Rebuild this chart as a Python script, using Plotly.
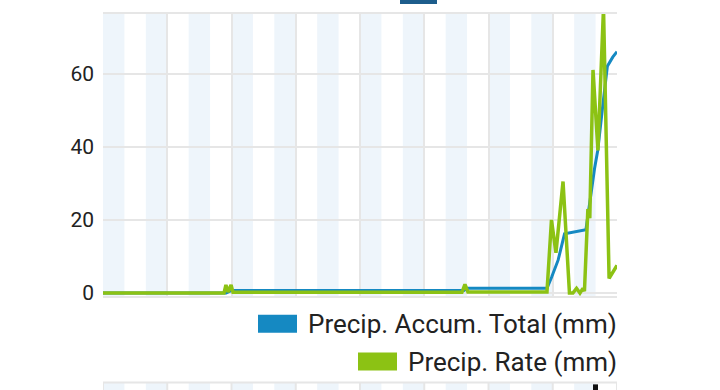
import plotly.graph_objects as go

# ---- data (x in time units 0..24, y in mm) ----
accum_name = "Precip. Accum. Total (mm)"
rate_name = "Precip. Rate (mm)"

accum_x = [0, 5.75, 6.0, 16.85, 17.0, 20.73, 20.95, 21.25, 21.55, 22.4, 22.55, 22.95, 23.1, 23.35, 23.55, 23.8, 24.0]
accum_y = [0, 0, 0.7, 0.7, 1.3, 1.3, 4.4, 9, 16.2, 17.1, 17.3, 34, 39, 52, 62, 64.5, 66]

rate_x = [0, 5.65, 5.74, 5.84, 5.98, 6.07, 16.76, 16.9, 17.04, 20.73, 20.94, 21.15, 21.48, 21.78,
          21.94, 22.11, 22.27, 22.41, 22.48, 22.64, 22.73, 22.88, 23.11, 23.37, 23.63, 24.0]
rate_y = [0, 0, 2.2, 0.3, 2.2, 0.2, 0.2, 2.4, 0.3, 0.3, 20, 11, 30.5, 0,
          0, 1.3, 0, 1.3, 0.5, 23, 20.5, 61, 39, 78, 4, 7.6]

y_ticks = [0, 20, 40, 60]
x_grid = [0, 3, 6, 9, 12, 15, 18, 21, 24]
band_starts = [0, 2, 4, 6, 8, 10, 12, 14, 16, 18, 20, 22]

accum_color = "#1589c2"
rate_color = "#8cc214"
band_color = "#eef5fb"
grid_color = "#e6e6e6"

fig = go.Figure()
fig.add_trace(go.Scatter(x=accum_x, y=accum_y, mode="lines", name=accum_name,
                         line=dict(color=accum_color, width=3), showlegend=False))
fig.add_trace(go.Scatter(x=rate_x, y=rate_y, mode="lines", name=rate_name,
                         line=dict(color=rate_color, width=3.5), showlegend=False))

shapes = []
# bands in main plot and in the cropped lower chart strip
for b in band_starts:
    shapes.append(dict(type="rect", xref="x", yref="paper", x0=b, x1=b + 1, y0=0, y1=1,
                       fillcolor=band_color, line=dict(width=0), layer="below"))
    shapes.append(dict(type="rect", xref="x", yref="paper", x0=b, x1=b + 1, y0=-0.35, y1=-0.3063,
                       fillcolor=band_color, line=dict(width=0), layer="below"))
for g in x_grid:
    shapes.append(dict(type="line", xref="x", yref="paper", x0=g, x1=g, y0=-0.35, y1=-0.3063,
                       line=dict(color=grid_color, width=2)))
shapes.append(dict(type="line", xref="paper", yref="paper", x0=0, x1=1, y0=-0.3063, y1=-0.3063,
                   line=dict(color=grid_color, width=2)))
# black glyph top in lower strip
shapes.append(dict(type="rect", xref="paper", yref="paper", x0=(593 - 103) / 514, x1=(598 - 103) / 514,
                   y0=-0.35, y1=(296 - 385) / 284, fillcolor="#111111", line=dict(width=0)))
# cropped legend swatch of the chart above
shapes.append(dict(type="rect", xref="paper", yref="paper", x0=(400 - 103) / 514, x1=(437 - 103) / 514,
                   y0=(296 - 2) / 284, y1=1.1, fillcolor="#1d5d8c", line=dict(width=0)))

# legend swatches
shapes.append(dict(type="rect", xref="paper", yref="paper", x0=(258 - 103) / 514, x1=(297 - 103) / 514,
                   y0=(296 - 333) / 284, y1=(296 - 315) / 284, fillcolor=accum_color, line=dict(width=0)))
shapes.append(dict(type="rect", xref="paper", yref="paper", x0=(358 - 103) / 514, x1=(397 - 103) / 514,
                   y0=(296 - 371) / 284, y1=(296 - 353) / 284, fillcolor=rate_color, line=dict(width=0)))

annotations = [
    dict(xref="paper", yref="paper", x=1, y=(296 - 324) / 284, text=accum_name, showarrow=False,
         xanchor="right", yanchor="middle", xshift=2, font=dict(family="Roboto", size=26, color="#222222")),
    dict(xref="paper", yref="paper", x=1, y=(296 - 362) / 284, text=rate_name, showarrow=False,
         xanchor="right", yanchor="middle", xshift=2, font=dict(family="Roboto", size=26, color="#222222")),
]

fig.update_layout(
    width=720, height=390,
    margin=dict(l=103, r=103, t=12, b=94),
    paper_bgcolor="white", plot_bgcolor="white",
    shapes=shapes, annotations=annotations,
    showlegend=False,
    xaxis=dict(range=[0, 24], tickvals=x_grid, showticklabels=False, showgrid=True,
               gridcolor=grid_color, gridwidth=2, zeroline=False, showline=True, mirror=True,
               linecolor=grid_color, linewidth=2, fixedrange=True),
    yaxis=dict(range=[-0.8, 76.3], tickvals=y_ticks, showgrid=True, gridcolor=grid_color, gridwidth=2,
               zeroline=False, showline=False, ticklabelstandoff=8,
               tickfont=dict(family="Roboto", size=21, color="#222222"), fixedrange=True),
)

fig.write_html("out.html", config={"displayModeBar": False},
               post_script="document.body.style.margin='0';document.body.style.overflow='hidden';")
